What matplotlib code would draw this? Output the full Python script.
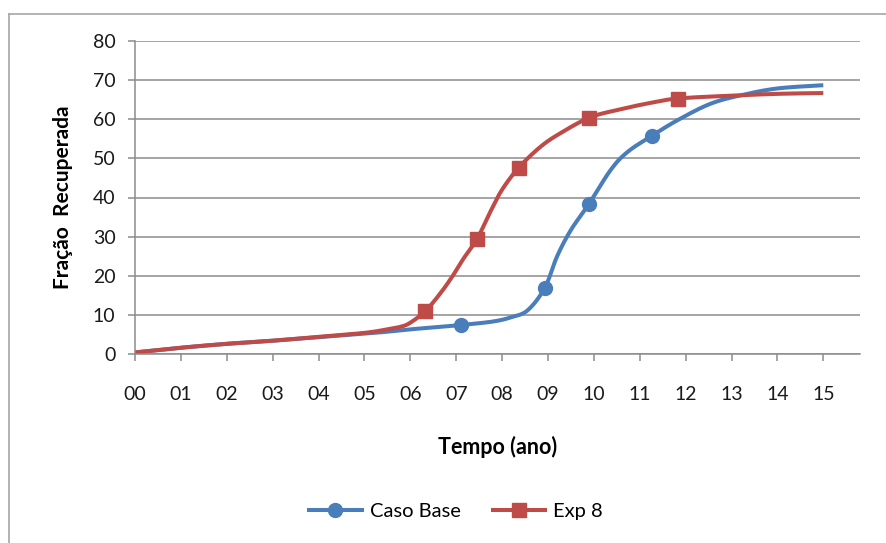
import numpy as np
import matplotlib.pyplot as plt
from matplotlib.lines import Line2D

# Caso Base curve (tempo em anos, fracao recuperada)
base_t = [0.0, 1.0, 2.0, 3.0, 4.0, 5.0, 5.5, 6.0, 6.5, 7.1, 7.8, 8.2, 8.56,
          8.93, 9.2, 9.5, 9.89, 10.37, 10.74, 11.27, 11.83, 12.55, 13.27,
          14.02, 15.0]
base_v = [0.4, 1.6, 2.6, 3.4, 4.3, 5.2, 5.7, 6.3, 6.8, 7.4, 8.3, 9.4, 11.2,
          16.9, 25.0, 31.7, 38.3, 47.1, 51.7, 55.8, 59.8, 64.0, 66.3,
          67.9, 68.7]
base_marks = [9, 13, 16, 19]

# Exp 8 curve
exp8_t = [0.0, 1.0, 2.0, 3.0, 4.0, 5.0, 5.5, 5.8, 6.0, 6.33, 6.66, 6.92, 7.16,
          7.45, 7.75, 8.0, 8.36, 8.84, 9.28, 9.9, 10.52, 11.24, 11.83,
          12.93, 14.02, 15.0]
exp8_v = [0.4, 1.6, 2.6, 3.4, 4.4, 5.4, 6.3, 7.0, 8.0, 11.0, 15.6, 19.9, 24.4,
          29.3, 36.5, 42.0, 47.6, 53.0, 56.5, 60.4, 62.4, 64.2, 65.3,
          66.0, 66.5, 66.7]
exp8_marks = [9, 13, 16, 19, 22]

years = list(range(16))
year_labels = ["%02d" % y for y in years]
y_ticks = list(range(0, 81, 10))


def smooth(t, v, steps=12):
    # Catmull-Rom pass through the points, like a smoothed line in a spreadsheet
    p = np.column_stack([t, v]).astype(float)
    p = np.vstack([p[0], p, p[-1]])
    out = []
    s = np.linspace(0, 1, steps, endpoint=False)[:, None]
    for i in range(1, len(p) - 2):
        p0, p1, p2, p3 = p[i - 1], p[i], p[i + 1], p[i + 2]
        seg = 0.5 * ((2 * p1) + (-p0 + p2) * s
                     + (2 * p0 - 5 * p1 + 4 * p2 - p3) * s ** 2
                     + (-p0 + 3 * p1 - 3 * p2 + p3) * s ** 3)
        out.append(seg)
    out.append(p[-2][None, :])
    out = np.vstack(out)
    return out[:, 0], out[:, 1]


font = ["Lato", "DejaVu Sans"]
plt.rcParams["font.family"] = font

fig = plt.figure(figsize=(8.86, 5.43), dpi=100)
ax = fig.add_axes([135 / 886, 1 - 354 / 543, (860 - 135) / 886, (354 - 41) / 543])

blue = "#4A7EBB"
red = "#BE4B48"

for t, v, marks, c, m, name in [(base_t, base_v, base_marks, blue, "o", "Caso Base"),
                                 (exp8_t, exp8_v, exp8_marks, red, "s", "Exp 8")]:
    st, sv = smooth(t, v)
    ax.plot(st, sv, color=c, lw=2.9, solid_capstyle="butt")
    ax.plot([t[i] for i in marks], [v[i] for i in marks], ls="none",
            marker=m, markersize=10, color=c)
    # legend handle only
    ax.plot([], [], color=c, lw=2.9, marker=m, markersize=10, label=name)

ax.set_xlim(0, 15.8)
ax.set_ylim(0, 80)
ax.set_xticks(years)
ax.set_xticklabels(year_labels)
ax.set_yticks(y_ticks)

grid_c = "#8C8C8C"
ax.yaxis.grid(True, color=grid_c, lw=1.1)
ax.set_axisbelow(True)
for side in ["top", "right"]:
    ax.spines[side].set_visible(False)
for side in ["left", "bottom"]:
    ax.spines[side].set_color(grid_c)
    ax.spines[side].set_linewidth(1.1)
ax.tick_params(axis="both", direction="out", length=5, width=1.1,
               color=grid_c, labelsize=14, labelcolor="#1a1a1a")
ax.tick_params(axis="x", pad=18)
ax.tick_params(axis="y", pad=9)

ax.set_xlabel("Tempo (ano)", fontsize=15.5, fontweight="bold", labelpad=24)
ax.set_ylabel("Fração  Recuperada", fontsize=15, fontweight="bold", labelpad=14)

fig.legend(loc="center", bbox_to_anchor=(456 / 886, 1 - 511 / 543), ncol=2,
           frameon=False, fontsize=14.5, handlelength=2.6, columnspacing=1.6,
           handletextpad=0.4)

# chart frame
frame_c = "#A6A6A6"
fig.add_artist(Line2D([9 / 886, 1], [1 - 14 / 543, 1 - 14 / 543],
                      transform=fig.transFigure, color=frame_c, lw=1.2))
fig.add_artist(Line2D([9 / 886, 9 / 886], [1 - 14 / 543, 0],
                      transform=fig.transFigure, color=frame_c, lw=1.2))

fig.savefig("out.png", dpi=100)
